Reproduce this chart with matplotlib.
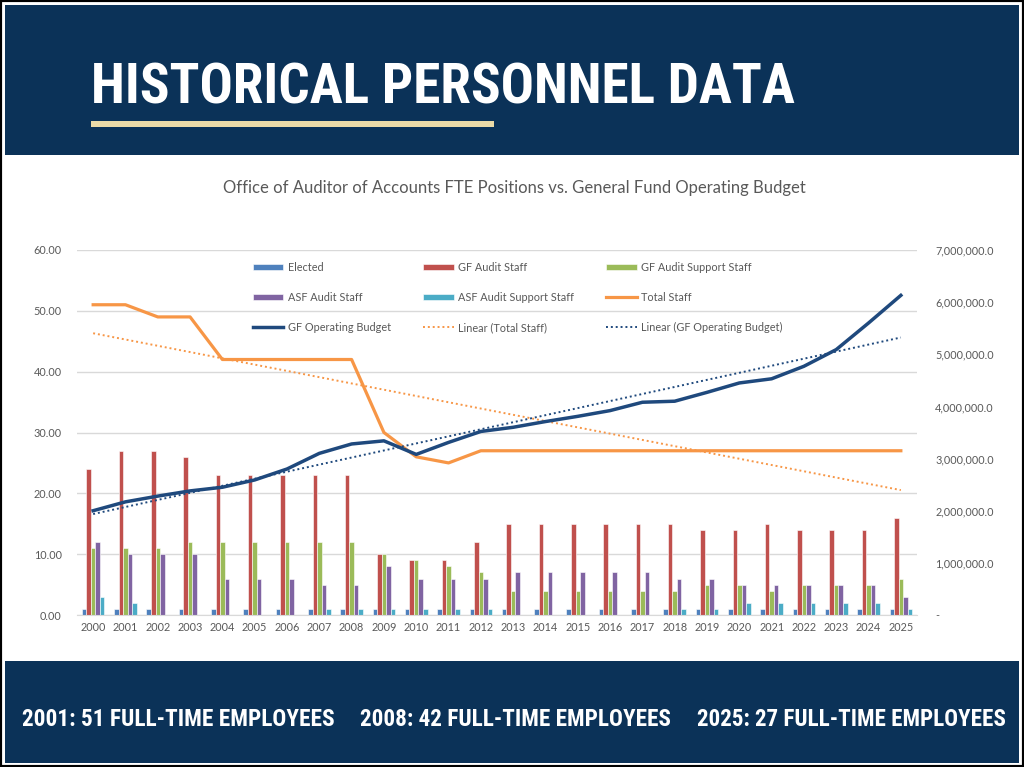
import matplotlib
matplotlib.use("Agg")
import matplotlib.pyplot as plt
import numpy as np
from matplotlib import font_manager
from matplotlib.ticker import FuncFormatter, MultipleLocator
from matplotlib.patches import Rectangle

# ---- data ----
years = list(range(2000, 2026))
elected = [1] * 26
gf_audit_staff = [24, 27, 27, 26, 23, 23, 23, 23, 23, 10, 9, 9, 12,
                  15, 15, 15, 15, 15, 15, 14, 14, 15, 14, 14, 14, 16]
gf_audit_support = [11, 11, 11, 12, 12, 12, 12, 12, 12, 10, 9, 8, 7,
                    4, 4, 4, 4, 4, 4, 5, 5, 4, 5, 5, 5, 6]
asf_audit_staff = [12, 10, 10, 10, 6, 6, 6, 5, 5, 8, 6, 6, 6,
                   7, 7, 7, 7, 7, 6, 6, 5, 5, 5, 5, 5, 3]
asf_audit_support = [3, 2, 0, 0, 0, 0, 0, 1, 1, 1, 1, 1, 1,
                     0, 0, 0, 0, 0, 1, 1, 2, 2, 2, 2, 2, 1]
total_staff = [51, 51, 49, 49, 42, 42, 42, 42, 42, 30, 26, 25, 27,
               27, 27, 27, 27, 27, 27, 27, 27, 27, 27, 27, 27, 27]
gf_budget = [2000000, 2170000, 2280000, 2380000, 2450000, 2590000, 2800000,
             3100000, 3280000, 3340000, 3080000, 3310000, 3520000, 3600000,
             3710000, 3810000, 3920000, 4080000, 4100000, 4270000, 4450000,
             4530000, 4770000, 5090000, 5600000, 6130000]

bar_series = [
    ("Elected", elected, "#4F81BD"),
    ("GF Audit Staff", gf_audit_staff, "#C0504D"),
    ("GF Audit Support Staff", gf_audit_support, "#9BBB59"),
    ("ASF Audit Staff", asf_audit_staff, "#8064A2"),
    ("ASF Audit Support Staff", asf_audit_support, "#4BACC6"),
]

title = "HISTORICAL PERSONNEL DATA"
chart_title = "Office of Auditor of Accounts FTE Positions vs. General Fund Operating Budget"
footer = ["2001: 51 FULL-TIME EMPLOYEES", "2008: 42 FULL-TIME EMPLOYEES",
          "2025: 27 FULL-TIME EMPLOYEES"]

NAVY = "#0B3258"
GRID = "#D9D9D9"
TXT = "#595959"
ORANGE = "#F79646"
BUDGET = "#1F497D"
BODY_FONT = ["Lato", "DejaVu Sans"]


def pick_head_font():
    # prefer a narrow bold face if one happens to be installed
    fonts = font_manager.fontManager.ttflist
    names = {f.name for f in fonts}
    for n in ["Liberation Sans Narrow", "Roboto Condensed", "Open Sans Condensed",
              "Noto Sans Condensed", "DejaVu Sans Condensed"]:
        if n in names:
            return {"family": n, "stretch": "normal"}
    for f in fonts:
        if "ondensed" in str(f.stretch) and f.name in (
                "Roboto", "Noto Sans", "Open Sans", "DejaVu Sans", "Inter"):
            return {"family": f.name, "stretch": f.stretch}
    return {"family": "Roboto", "stretch": "normal"}


HEAD = pick_head_font()

W, H = 1024, 767
fig = plt.figure(figsize=(W / 100, H / 100), dpi=100)
fig.patch.set_facecolor("white")


def px(x, y):
    return x / W, 1 - y / H


# header / footer bands and frame
fig.add_artist(Rectangle((0, 0), 1, 1, transform=fig.transFigure,
                         facecolor="none", edgecolor="black", lw=3, zorder=0))
fig.add_artist(Rectangle(px(5, 155), 1014 / W, 150 / H, transform=fig.transFigure,
                         facecolor=NAVY, edgecolor="none", zorder=1))
fig.add_artist(Rectangle(px(5, 763), 1014 / W, 102 / H, transform=fig.transFigure,
                         facecolor=NAVY, edgecolor="none", zorder=1))
fig.add_artist(Rectangle(px(91, 127), 403 / W, 6 / H, transform=fig.transFigure,
                         facecolor="#EBDBA8", edgecolor="none", zorder=2))

renderer = fig.canvas.get_renderer()


def fit_text(x, y, s, width_px, size):
    t = fig.text(*px(x, y), s, color="white", fontsize=size, fontweight="bold",
                 family=[HEAD["family"], "DejaVu Sans"], fontstretch=HEAD["stretch"],
                 ha="left", va="baseline", zorder=3)
    w = t.get_window_extent(renderer).width
    t.set_fontsize(size * width_px / w)
    return t


fit_text(91, 104, title, 706, 50)
fit_text(22, 726, footer[0], 311, 20)
fit_text(360, 726, footer[1], 310, 20)
fit_text(697, 726, footer[2], 308, 20)

fig.text(*px(514, 188), chart_title, ha="center", va="center", fontsize=12,
         color=TXT, family=BODY_FONT)

# ---- chart ----
ax = fig.add_axes([77 / W, 1 - 615 / H, 840 / W, 365 / H])
ax2 = ax.twinx()
ax.set_zorder(2)
ax2.set_zorder(3)
ax.patch.set_visible(False)

x = np.arange(len(years))
bw = 0.14
handles = []
for i, (name, vals, col) in enumerate(bar_series):
    b = ax.bar(x + (i - 2) * bw, vals, bw, color=col, edgecolor="white",
               linewidth=0.4, label=name, zorder=2)
    handles.append(b)

lt, = ax.plot(x, total_staff, color=ORANGE, lw=2.3, label="Total Staff",
              zorder=3, solid_joinstyle="round")
handles.append(lt)

lb, = ax2.plot(x, gf_budget, color=BUDGET, lw=2.5, label="GF Operating Budget",
               zorder=3, solid_joinstyle="round")
handles.append(lb)

# linear trendlines
c1 = np.polyfit(x, total_staff, 1)
tl1, = ax.plot(x, np.polyval(c1, x), color=ORANGE, lw=1.4, ls=(0, (1, 1.5)),
               label="Linear (Total Staff)", zorder=3)
c2 = np.polyfit(x, gf_budget, 1)
tl2, = ax2.plot(x, np.polyval(c2, x), color=BUDGET, lw=1.4, ls=(0, (1, 1.5)),
                label="Linear (GF Operating Budget)", zorder=3)
handles += [tl1, tl2]

ax.set_xlim(-0.5, len(years) - 0.5)
ax.set_ylim(0, 60)
ax2.set_ylim(0, 7000000)
ax.yaxis.set_major_locator(MultipleLocator(10))
ax2.yaxis.set_major_locator(MultipleLocator(1000000))
ax.yaxis.set_major_formatter(FuncFormatter(lambda v, p: f"{v:.2f}"))
ax2.yaxis.set_major_formatter(
    FuncFormatter(lambda v, p: "-" if v == 0 else f"{v:,.1f}"))
ax.set_xticks(x)
ax.set_xticklabels([str(y) for y in years])

ax.grid(axis="y", color=GRID, lw=1, zorder=0)
ax.set_axisbelow(True)
for a in (ax, ax2):
    for s in a.spines.values():
        s.set_visible(False)
ax.spines["bottom"].set_visible(True)
ax.spines["bottom"].set_color(GRID)

ax.tick_params(axis="both", length=0, labelsize=7.8, labelcolor=TXT)
ax.tick_params(axis="y", pad=11)
ax.tick_params(axis="x", pad=5)
ax2.tick_params(axis="y", length=0, labelsize=7.8, labelcolor=TXT, pad=13)
for lab in ax.get_xticklabels() + ax.get_yticklabels() + ax2.get_yticklabels():
    lab.set_family(BODY_FONT)

# legend, row-major order
order = [0, 3, 6, 1, 4, 7, 2, 5, 8]
hs = [handles[i] for i in order]
labels = [h.get_label() for h in hs]
leg = ax2.legend(hs, labels, ncol=3, loc="upper left",
                 bbox_to_anchor=px(253, 262), bbox_transform=fig.transFigure,
                 frameon=False, handlelength=2.8,
                 handleheight=0.5, handletextpad=0.4, columnspacing=3.0,
                 labelspacing=1.75, borderpad=0, borderaxespad=0,
                 prop={"family": BODY_FONT, "size": 7.8})
for t in leg.get_texts():
    t.set_color(TXT)

fig.savefig("out.png", dpi=100, facecolor="white")
